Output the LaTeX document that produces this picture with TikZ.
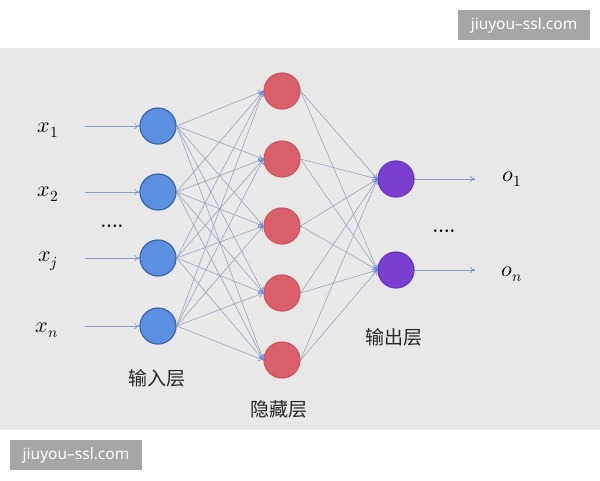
\documentclass[tikz,border=0pt]{standalone}
\usepackage{fontspec}
\usepackage{unicode-math}
\setmathfont{Latin Modern Math}
\setsansfont{Noto Sans}
\newfontfamily\cjk{Noto Sans CJK SC}
\usetikzlibrary{arrows.meta}
\definecolor{bgray}{HTML}{E8E8E8}
\definecolor{inblue}{HTML}{5B8FDF}
\definecolor{inborder}{HTML}{3A64A8}
\definecolor{hidred}{HTML}{D95F6A}
\definecolor{hidborder}{HTML}{CC5560}
\definecolor{outpur}{HTML}{7B3FD0}
\definecolor{outborder}{HTML}{6A35BC}
\definecolor{linkc}{HTML}{8F9DBD}
\definecolor{tipc}{HTML}{5F86D6}
\definecolor{wmgray}{HTML}{A6A6A6}
\begin{document}
\begin{tikzpicture}[x=1pt,y=-1pt,
  neuron/.style={circle,minimum size=36pt,inner sep=0pt,line width=1.2pt},
  inneuron/.style={neuron,fill=inblue,draw=inborder},
  hidneuron/.style={neuron,fill=hidred,draw=hidborder},
  outneuron/.style={neuron,fill=outpur,draw=outborder},
  link/.style={draw=linkc,line width=0.5pt,-{To[length=5pt,width=6pt,color=tipc]}},
  varlab/.style={font=\fontsize{22}{24}\selectfont},
  dotlab/.style={font=\fontsize{18}{20}\selectfont\bfseries},
  layerlab/.style={font=\fontsize{19}{21}\selectfont\cjk,text=black!85},
  wm/.style={fill=wmgray,text=white,font=\fontsize{15.5}{17}\sffamily,minimum width=132pt,minimum height=30pt,inner sep=0pt}
]
\useasboundingbox (0,0) rectangle (600,480);
\fill[white] (0,0) rectangle (600,480);
\fill[bgray] (0,48) rectangle (600,430);

% input layer
\node[inneuron] (i1) at (158,126) {};
\node[inneuron] (i2) at (158,192) {};
\node[inneuron] (i3) at (158,258) {};
\node[inneuron] (i4) at (158,326) {};
% hidden layer
\node[hidneuron] (h1) at (282,91) {};
\node[hidneuron] (h2) at (282,159) {};
\node[hidneuron] (h3) at (282,226) {};
\node[hidneuron] (h4) at (282,293) {};
\node[hidneuron] (h5) at (282,360) {};
% output layer
\node[outneuron] (o1) at (396,179) {};
\node[outneuron] (o2) at (396,270) {};

% input arrows
\coordinate (s1) at (85,126);
\coordinate (s2) at (85,192);
\coordinate (s3) at (85,258);
\coordinate (s4) at (85,326);
\foreach \k in {1,2,3,4} \draw[link] (s\k) -- (i\k.west);

% input -> hidden
\foreach \a in {1,2,3,4} \foreach \b in {1,...,5} \draw[link] (i\a.east) -- (h\b.west);
% hidden -> output
\foreach \a in {1,...,5} \foreach \b in {1,2} \draw[link] (h\a.east) -- (o\b.west);

% output arrows
\coordinate (e1) at (475,179);
\coordinate (e2) at (475,270);
\draw[link] (o1.east) -- (e1);
\draw[link] (o2.east) -- (e2);

% labels
\node[varlab] (lx1) at (48,130) {$x_1$};
\node[varlab] (lx2) at (48,194) {$x_2$};
\node[dotlab] (ldi) at (112,226) {....};
\node[varlab] (lxj) at (48,261) {$x_j$};
\node[varlab] (lxn) at (47,330) {$x_n$};
\node[varlab] (lo1) at (512,179) {$o_1$};
\node[dotlab] (ldo) at (444,231) {....};
\node[varlab] (lon) at (512,274) {$o_n$};

\node[layerlab] (lin) at (157,378) {输入层};
\node[layerlab] (lhid) at (279,409) {隐藏层};
\node[layerlab] (lout) at (394,337) {输出层};

% watermarks
\node[wm] (wm1) at (524,25) {jiuyou–ssl.com};
\node[wm] (wm2) at (76,455) {jiuyou–ssl.com};
\end{tikzpicture}
\end{document}
